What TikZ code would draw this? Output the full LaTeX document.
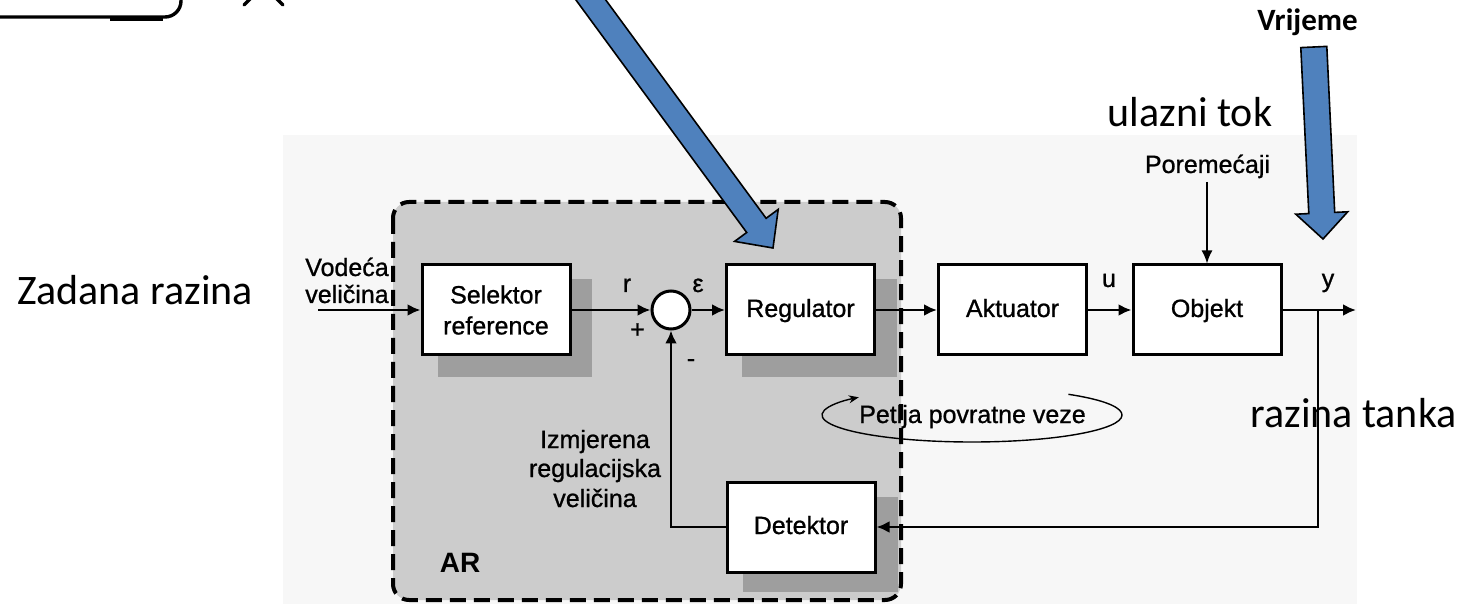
\documentclass[tikz,border=0pt]{standalone}
\usepackage{fontspec}
\setmainfont{Liberation Sans}
\newfontfamily\scanfont[FakeBold=0.9]{Liberation Sans}
\newfontfamily\calib{Carlito}
\usetikzlibrary{calc,arrows.meta,backgrounds}
\definecolor{pptblue}{RGB}{79,129,189}
\definecolor{arfill}{RGB}{204,204,204}
\definecolor{shadowc}{RGB}{158,158,158}
\definecolor{scanbg}{RGB}{247,247,247}
\begin{document}
\begin{tikzpicture}[x=0.5pt,y=-0.5pt,
  blk/.style={draw=black, line width=1.5pt, fill=white, minimum width=74pt, minimum height=45pt, inner sep=0pt, font=\scanfont\fontsize{12.5}{15.5}\selectfont, align=center},
  one/.style={text height=8.5pt, text depth=1.5pt},
  lbl/.style={font=\scanfont\fontsize{12.5}{15.5}\selectfont, inner sep=0pt, anchor=base},
  big/.style={font=\calib\fontsize{21}{25}\selectfont, inner sep=0pt, anchor=base},
  sig/.style={line width=1.3pt, -{Latex[length=6.5pt,width=6pt]}},
  thinsig/.style={line width=0.9pt, -{Latex[length=6.5pt,width=5.5pt]}},
  shade/.style={fill=shadowc, draw=none},
  bluearrow/.style={fill=pptblue, draw=black, line width=0.8pt, line join=miter},
  frag/.style={line width=1.7pt, line cap=round},
]
\useasboundingbox (0,0) rectangle (1473,604);
\clip (0,0) rectangle (1473,604);

% blocks
\node[blk] (sel) at (496,310) {Selektor\\reference};
\node[blk, one] (reg) at (800.5,310) {Regulator};
\node[blk, one] (akt) at (1012.5,310) {Aktuator};
\node[blk, one] (obj) at (1207,310) {Objekt};
\node[blk, one] (det) at (801,527) {Detektor};
\node[circle, draw=black, line width=1.5pt, fill=white, minimum size=19pt, inner sep=0pt] (sum) at (671,310) {};

\begin{scope}[on background layer]
  % scanned figure background
  \fill[scanbg] (283,135) rectangle (1357,604);
  % AR region
  \fill[arfill, rounded corners=8pt] (393,202) rectangle (901,600);
  % block shadows
  \fill[shade] ($(sel.north west)+(17,16)$) rectangle ($(sel.south east)+(20,20)$);
  \fill[shade] ($(reg.north west)+(17,16)$) rectangle ($(reg.south east)+(21,20)$);
  \fill[shade] ($(det.north west)+(17,16)$) rectangle ($(det.south east)+(21,18)$);
  \draw[line width=2pt, dash pattern=on 8pt off 4pt, rounded corners=8pt] (393,202) rectangle (901,600);
\end{scope}

% signal flow
\coordinate (in) at (318,310);
\coordinate (out) at (1356,310);
\coordinate (br) at (1318,310);
\coordinate (fbr) at (1318,527);
\coordinate (fbl) at (671,527);
\coordinate (dist) at (1207,182);
\draw[sig] (in) -- (sel.west);
\draw[sig] (sel.east) -- (sum.west);
\draw[sig] (sum.east) -- (reg.west);
\draw[sig] (reg.east) -- (akt.west);
\draw[sig] (akt.east) -- (obj.west);
\draw[sig] (obj.east) -- (out);
\draw[sig] (br) -- (fbr) -- (det.east);
\draw[sig] (det.west) -- (fbl) -- (sum.south);
\draw[thinsig] (dist) -- (obj.north);

% labels of the scanned diagram
\node[lbl] (vod1) at (347,276) {Vodeća};
\node[lbl] (vod2) at (347,303) {veličina};
\node[lbl] (r) at (627,292) {r};
\node[lbl] (eps) at (698,292) {ε};
\node[font=\scanfont\fontsize{12.5}{15}\selectfont, inner sep=0pt] (plus) at (637.5,330.5) {+};
\node[font=\scanfont\fontsize{12.5}{15}\selectfont, inner sep=0pt] (minus) at (691,363) {-};
\node[lbl] (u) at (1109,287) {u};
\node[lbl] (y) at (1328,287) {y};
\node[lbl] (por) at (1207.5,173) {Poremećaji};
\node[lbl] (izm1) at (595,448) {Izmjerena};
\node[lbl] (izm2) at (595,477) {regulacijska};
\node[lbl] (izm3) at (595,507) {veličina};
\node[lbl, font=\bfseries\fontsize{14}{16}\selectfont] (ar) at (460,572) {AR};
\node[lbl] (pet) at (972.5,423) {Petlja povratne veze};
\coordinate (pc) at (972,415);
\draw[line width=0.7pt, -{Stealth[length=5pt,width=4pt]}] ($(pc)+(50:75pt and 13.5pt)$) arc[start angle=50, end angle=-221, x radius=75pt, y radius=13.5pt];

% annotations
\node[big] (zad) at (135,305) {Zadana razina};
\node[big] (ul) at (1190,127) {ulazni tok};
\node[big] (rt) at (1353.5,427) {razina tanka};
\node[big, font=\calib\bfseries\fontsize{15.5}{18}\selectfont] (vr) at (1307.5,31) {Vrijeme};

\coordinate (tip1) at (773,248);
\draw[bluearrow] (tip1) -- (778.2,209.4) -- (766.1,218.3) -- (576.7,-39.6) -- (557.3,-25.4) -- (746.7,232.5) -- (734.6,241.4) -- cycle;
\coordinate (tip2) at (1323,239);
\draw[bluearrow] (tip2) -- (1347.7,211.8) -- (1334.7,212.4) -- (1326.8,46.4) -- (1300.8,47.6) -- (1308.8,213.6) -- (1295.8,214.2) -- cycle;

% fragments of a cropped picture at the top left
\draw[frag, rounded corners=8pt] (-5,17) -- (181,17) -- (181,-10);
\draw[line width=2.4pt] (110,18.5) -- (163,18.5);
\draw[frag] (244,5) -- (252,-3);
\draw[frag] (283,5) -- (275,-3);
\end{tikzpicture}
\end{document}
